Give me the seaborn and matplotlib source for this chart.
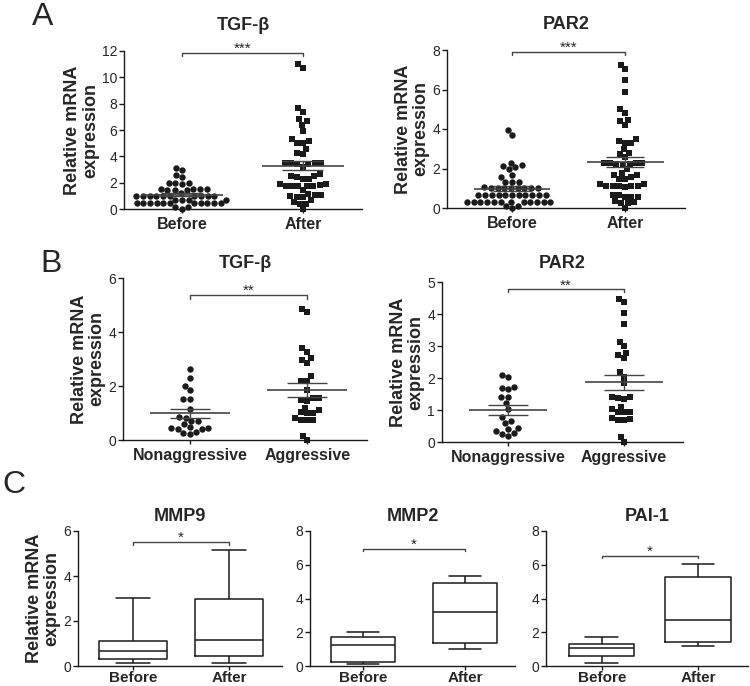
import numpy as np
import matplotlib.pyplot as plt
import seaborn as sns

sns.set_theme(style="ticks")
plt.rcParams['font.family'] = ['Liberation Sans', 'DejaVu Sans']

# ---- data ----
before_after = ["Before", "After"]
aggr_groups = ["Nonaggressive", "Aggressive"]

# A: TGF-b, before / after
tgfb_before_a = [3.15, 3.0, 2.55, 2.4, 2.0, 2.0, 2.0, 1.9,
                 1.5, 1.5, 1.5, 1.5, 1.45, 1.45, 1.45, 1.2,
                 1.0, 1.0, 1.0, 1.0, 1.0, 1.0, 1.0, 1.0, 1.0, 1.0,
                 0.72, 0.72, 0.72, 0.72,
                 0.42, 0.42, 0.42, 0.42, 0.42, 0.42, 0.42, 0.42, 0.42, 0.42, 0.42,
                 0.15, 0.13, 0.02]
tgfb_after_a = [11.0, 10.7, 7.67, 7.34, 6.81, 6.68, 6.4, 5.95, 5.32, 5.16, 4.99, 4.99,
                4.53, 4.23, 4.15, 3.52, 3.47, 3.47, 3.47, 3.42, 3.39, 3.2, 2.63, 2.53,
                2.5, 2.4, 2.25, 2.25, 1.9, 1.87, 1.82, 1.75, 1.75, 1.75, 1.75, 1.75,
                1.42, 1.11, 1.04, 1.04, 0.99, 0.94, 0.91, 0.66, 0.53, 0.4, 0.4, 0.0]

# A: PAR2, before / after
par2_before_a = [3.95, 3.7, 2.3, 2.18, 2.13, 2.06, 1.96, 1.67, 1.59, 1.33, 1.33, 1.33, 1.08,
                 1.0, 1.0, 1.0, 1.0, 1.0, 1.0, 1.0, 1.0,
                 0.68, 0.68, 0.68, 0.68, 0.68, 0.68, 0.68, 0.68, 0.68, 0.68, 0.68,
                 0.32, 0.32, 0.32, 0.32, 0.32, 0.32, 0.32, 0.32, 0.32, 0.32, 0.32, 0.32,
                 0.12, 0.12, 0.0]
par2_after_a = [7.24, 7.02, 6.48, 5.87, 5.03, 4.83, 4.46, 4.39, 4.19, 3.49, 3.39, 3.27,
                3.27, 2.97, 2.8, 2.72, 2.57, 2.28, 2.26, 2.26, 2.26, 2.23, 2.23, 2.18,
                1.96, 1.76, 1.67, 1.67, 1.55, 1.49, 1.49, 1.22, 1.22, 1.13, 1.13, 1.13,
                1.13, 1.13, 1.08, 0.66, 0.66, 0.57, 0.57, 0.57, 0.35, 0.3, 0.27, 0.24, 0.0]

# B: nonaggressive / aggressive
tgfb_nonagg_b = [2.64, 2.28, 2.0, 1.85, 1.52, 1.52, 1.14, 0.84, 0.83, 0.72, 0.72, 0.6,
                 0.49, 0.44, 0.44, 0.42, 0.42, 0.28, 0.27, 0.22]
tgfb_agg_b = [4.86, 4.74, 3.4, 3.27, 3.02, 2.96, 2.84, 2.37, 2.2, 2.2, 1.85, 1.54, 1.54,
              1.48, 1.44, 1.2, 1.11, 1.02, 0.99, 0.99, 0.8, 0.75, 0.75, 0.75, 0.16, 0.0]
par2_nonagg_b = [2.09, 2.02, 1.73, 1.7, 1.65, 1.4, 1.4, 1.21, 1.02, 0.77, 0.67, 0.58,
                 0.44, 0.41, 0.35, 0.27, 0.24, 0.19]
par2_agg_b = [4.47, 4.36, 4.02, 3.68, 3.13, 2.99, 2.79, 2.71, 2.62, 2.19, 2.04, 1.83,
              1.42, 1.4, 1.36, 1.34, 1.1, 1.02, 0.93, 0.93, 0.93, 0.74, 0.71, 0.69,
              0.69, 0.17, 0.0]

# C: five-number summaries (min, q1, median, q3, max)
mmp9_before = [0.15, 0.32, 0.65, 1.12, 3.01]
mmp9_after = [0.15, 0.44, 1.16, 2.99, 5.15]
mmp2_before = [0.12, 0.26, 1.24, 1.73, 2.00]
mmp2_after = [1.00, 1.39, 3.18, 4.89, 5.32]
pai1_before = [0.16, 0.59, 1.06, 1.32, 1.73]
pai1_after = [1.16, 1.41, 2.75, 5.30, 6.03]

INK = "#1a1a1a"
GREY = "#444444"
W, H = 750, 686


def make_ax(fig, left, right, top, bottom):
    return fig.add_axes([left / W, 1 - bottom / H, (right - left) / W, (bottom - top) / H])


def style_ax(ax, ymax, step, xlim, title, title_pad, ylabel=True, xpad=3, xsize=11.5):
    ax.set_xlim(*xlim)
    ax.set_ylim(0, ymax)
    ax.set_yticks(list(range(0, ymax + 1, step)))
    ax.set_xlabel("")
    for side in ["top", "right"]:
        ax.spines[side].set_visible(False)
    for side in ["left", "bottom"]:
        ax.spines[side].set_color(INK)
        ax.spines[side].set_linewidth(1.0)
    ax.tick_params(axis="y", length=3.5, width=1.0, pad=1.5, labelsize=10, color=INK)
    ax.tick_params(axis="x", length=3, width=1.0, pad=xpad, labelsize=xsize, color=INK)
    for lab in ax.get_xticklabels():
        lab.set_fontweight("bold")
    ax.set_title(title, fontsize=13, fontweight="bold", pad=title_pad)
    if ylabel:
        ax.set_ylabel("Relative mRNA\nexpression", fontsize=13, fontweight="bold",
                      labelpad=2, linespacing=1.05)
    else:
        ax.set_ylabel("")


def bracket(ax, y, drop, stars):
    ax.plot([0, 0, 1, 1], [y - drop, y, y, y - drop], color=GREY, lw=1.0, clip_on=False)
    ax.annotate(stars, xy=(0.5, y), xytext=(0, 0), textcoords="offset points",
                ha="center", va="baseline", fontsize=11, annotation_clip=False)


def mean_sem(ax, pos, vals):
    m = np.mean(vals)
    s = np.std(vals, ddof=1) / np.sqrt(len(vals))
    ax.hlines(m, pos - 0.34, pos + 0.34, color=GREY, lw=1.2, zorder=4)
    ax.hlines([m - s, m + s], pos - 0.17, pos + 0.17, color=GREY, lw=1.0, zorder=4)
    ax.vlines(pos, m - s, m + s, color=GREY, lw=1.0, zorder=4)


def scatter_panel(ax, cats, first, second, ymax, step, xlim, title, title_pad,
                  bry, drop, stars):
    ax.set_xlim(*xlim)
    ax.set_ylim(0, ymax)
    sns.swarmplot(x=[cats[0]] * len(first), y=first, order=cats, marker="o",
                  size=4.6, color=INK, ax=ax)
    sns.swarmplot(x=[cats[1]] * len(second), y=second, order=cats, marker="s",
                  size=4.3, color=INK, ax=ax)
    for coll in ax.collections:
        coll.set_clip_on(False)
    mean_sem(ax, 0, first)
    mean_sem(ax, 1, second)
    style_ax(ax, ymax, step, xlim, title, title_pad)
    bracket(ax, bry, drop, stars)


def box_panel(ax, first, second, ymax, step, xlim, width, title, ylabel, bry, drop):
    cats = before_after
    xs = [cats[0]] * len(first) + [cats[1]] * len(second)
    sns.boxplot(x=xs, y=first + second, order=cats, whis=(0, 100), width=width,
                fill=False, color=INK, linewidth=1.1, ax=ax)
    style_ax(ax, ymax, step, xlim, title, 7, ylabel=ylabel, xpad=0.5, xsize=11)
    bracket(ax, bry, drop, "*")


fig = plt.figure(figsize=(W / 100, H / 100), dpi=100)

# Row A
ax = make_ax(fig, 124, 362, 51, 209)
scatter_panel(ax, before_after, tgfb_before_a, tgfb_after_a, 12, 2, (-0.48, 1.49),
              "TGF-β", 15, 11.87, 0.27, "***")
ax = make_ax(fig, 447, 685, 50, 208)
scatter_panel(ax, before_after, par2_before_a, par2_after_a, 8, 2, (-0.575, 1.53),
              "PAR2", 15, 7.91, 0.17, "***")

# Row B
ax = make_ax(fig, 123, 367, 278, 440)
scatter_panel(ax, aggr_groups, tgfb_nonagg_b, tgfb_agg_b, 6, 2, (-0.57, 1.51),
              "TGF-β", 7, 5.38, 0.15, "**")
ax = make_ax(fig, 442, 683, 282, 442)
scatter_panel(ax, aggr_groups, par2_nonagg_b, par2_agg_b, 5, 1, (-0.57, 1.51),
              "PAR2", 10, 4.77, 0.09, "**")

# Row C
ax = make_ax(fig, 78, 282, 531, 666)
box_panel(ax, mmp9_before, mmp9_after, 6, 2, (-0.57, 1.55), 0.71, "MMP9", True, 5.5, 0.13)
ax = make_ax(fig, 310, 515, 531, 666)
box_panel(ax, mmp2_before, mmp2_after, 8, 2, (-0.52, 1.49), 0.62, "MMP2", False, 6.93, 0.13)
ax = make_ax(fig, 546, 748, 531, 666)
box_panel(ax, pai1_before, pai1_after, 8, 2, (-0.58, 1.52), 0.68, "PAI-1", False, 6.54, 0.12)

# panel letters
fig.text(32 / W, 1 - 25 / H, "A", fontsize=23, va="baseline")
fig.text(40 / W, 1 - 272 / H, "B", fontsize=23, va="baseline")
fig.text(2 / W, 1 - 493 / H, "C", fontsize=23, va="baseline")

fig.savefig("out.png", dpi=100)
